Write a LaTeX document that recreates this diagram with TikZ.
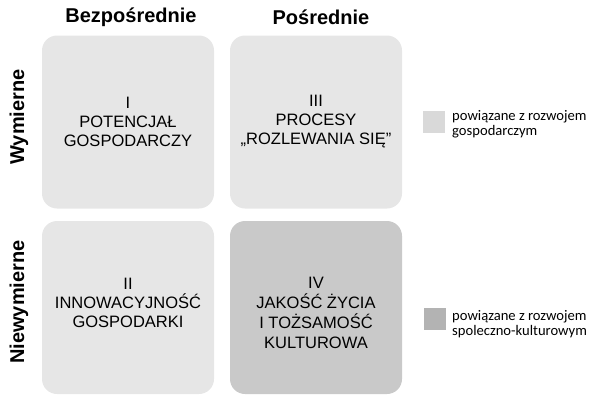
\documentclass[tikz,border=0pt]{standalone}
\usepackage{fontspec}
\setmainfont{Liberation Sans}
\newfontfamily\legendfont{Carlito}
\usetikzlibrary{positioning}

\definecolor{cellgospo}{HTML}{E6E6E6}
\definecolor{cellspol}{HTML}{C9C9C9}
\definecolor{keygospo}{HTML}{D9D9D9}
\definecolor{keyspol}{HTML}{B3B3B3}

\begin{document}
\begin{tikzpicture}[x=1pt, y=-1pt, every node/.style={inner sep=0pt}]

% Style for the four cells of the matrix
\tikzset{
    cell/.style={
        minimum width=172pt,
        minimum height=173pt,
        rounded corners=15pt
    },
    celltext/.style={
        align=center,
        font=\fontsize{16.5}{19}\selectfont
    },
    headline/.style={font=\fontsize{20}{22}\selectfont\bfseries},
    keybox/.style={minimum size=22pt},
    keytext/.style={anchor=west, align=left, font=\legendfont\fontsize{14.6}{14.5}\selectfont}
}

\useasboundingbox (0,0) rectangle (591,394);

% =============================================
% NAGŁÓWKI
% =============================================
\node[headline] (hbezp) at (131,17) {Bezpośrednie};
\node[headline] (hposr) at (321,17) {Pośrednie};
\node[headline, rotate=90] (hwym) at (19,117) {Wymierne};
\node[headline, rotate=90] (hniew) at (19,302) {Niewymierne};

% =============================================
% KOMÓRKI MACIERZY
% =============================================
\node[cell, fill=cellgospo] (c1) at (128,122) {};
\node[cell, fill=cellgospo] (c3) at (316,122) {};
\node[cell, fill=cellgospo] (c2) at (128,307.5) {};
\node[cell, fill=cellspol] (c4) at (316,307.5) {};

\node[celltext] (t1) at (c1.center) {I\\POTENCJAŁ\\GOSPODARCZY};
\node[celltext] (t3) at (c3.center) {III\\PROCESY\\„ROZLEWANIA SIĘ”};
\node[celltext] (t2) at ([yshift=5pt]c2.center) {II\\INNOWACYJNOŚĆ\\GOSPODARKI};
\node[celltext, font=\fontsize{16.5}{20}\selectfont] (t4) at ([yshift=-5pt]c4.center) {IV\\JAKOŚĆ ŻYCIA\\I TOŻSAMOŚĆ\\KULTUROWA};

% =============================================
% LEGENDA
% =============================================
\node[keybox, fill=keygospo] (k1) at (434,122) {};
\node[keytext] (l1) at (452,124) {powiązane z rozwojem\\gospodarczym};
\node[keybox, fill=keyspol] (k2) at (435,319) {};
\node[keytext] (l2) at (452,324) {powiązane z rozwojem\\spoleczno-kulturowym};

\end{tikzpicture}
\end{document}
